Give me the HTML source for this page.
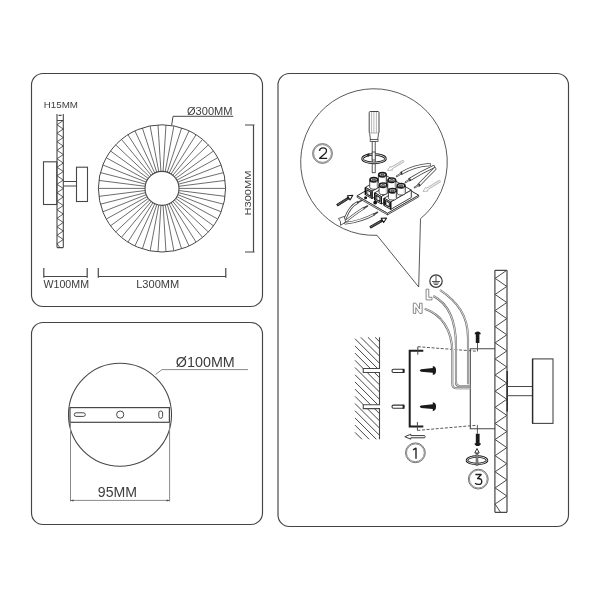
<!DOCTYPE html>
<html><head><meta charset="utf-8"><style>
html,body{margin:0;padding:0;background:#fff;width:600px;height:600px;overflow:hidden}
svg{display:block;filter:blur(0.35px)}
text{font-family:"Liberation Sans",sans-serif}
</style></head><body>
<svg width="600" height="600" viewBox="0 0 600 600">
<rect x="31.5" y="73.5" width="231" height="233" rx="11.5" fill="none" stroke="#444" stroke-width="1.15"/>
<text x="43.8" y="108.2" font-size="9.5" textLength="34.2" lengthAdjust="spacingAndGlyphs" fill="#3c3c3c" >H15MM</text>
<path d="M57 114V247.6M63.3 114V247.6M58.6 115.4H61.6M57 120.5H63.3M57 247.6H63.3" fill="none" stroke="#474747" stroke-width="1.1"/>
<path d="M63.3 120.5L57 124.75L63.3 129.00L57 133.25L63.3 137.50L57 141.75L63.3 146.00L57 150.25L63.3 154.50L57 158.75L63.3 163.00L57 167.25L63.3 171.50L57 175.75L63.3 180.00L57 184.25L63.3 188.50L57 192.75L63.3 197.00L57 201.25L63.3 205.50L57 209.75L63.3 214.00L57 218.25L63.3 222.50L57 226.75L63.3 231.00L57 235.25L63.3 239.50L57 243.75L60 247.6" fill="none" stroke="#474747" stroke-width="0.9"/>
<rect x="43.5" y="161.8" width="13.3" height="42.7" fill="none" stroke="#474747" stroke-width="1.1"/>
<path d="M63.3 181.5H76.5M63.3 186H76.5" fill="none" stroke="#474747" stroke-width="1"/>
<rect x="76.5" y="167.2" width="11" height="34.3" fill="none" stroke="#474747" stroke-width="1.1"/>
<path d="M43.8 268V277.8M87.2 268V277.8M43.8 276.5H87.2M98.3 268V277.8M225.8 268V277.8M98.3 276.5H225.8" fill="none" stroke="#474747" stroke-width="1.2"/>
<text x="43.5" y="287.9" font-size="10" textLength="45.5" lengthAdjust="spacingAndGlyphs" fill="#3c3c3c" >W100MM</text>
<text x="136.2" y="288.1" font-size="10" textLength="43.0" lengthAdjust="spacingAndGlyphs" fill="#3c3c3c" >L300MM</text>
<path d="M179.00 188.40L225.60 188.40M178.87 190.53L225.10 196.37M178.47 192.63L223.60 204.22M177.81 194.66L221.13 211.81M176.90 196.59L217.73 219.04M175.75 198.39L213.45 225.78M174.39 200.04L208.36 231.94M172.84 201.50L202.54 237.40M171.11 202.75L196.08 242.10M169.24 203.78L189.08 245.95M167.25 204.57L181.65 248.89M165.19 205.10L173.92 250.87M163.07 205.37L165.99 251.87M160.93 205.37L158.01 251.87M158.81 205.10L150.08 250.87M156.75 204.57L142.35 248.89M154.76 203.78L134.92 245.95M152.89 202.75L127.92 242.10M151.16 201.50L121.46 237.40M149.61 200.04L115.64 231.94M148.25 198.39L110.55 225.78M147.10 196.59L106.27 219.04M146.19 194.66L102.87 211.81M145.53 192.63L100.40 204.22M145.13 190.53L98.90 196.37M145.00 188.40L98.40 188.40M145.13 186.27L98.90 180.43M145.53 184.17L100.40 172.58M146.19 182.14L102.87 164.99M147.10 180.21L106.27 157.76M148.25 178.41L110.55 151.02M149.61 176.76L115.64 144.86M151.16 175.30L121.46 139.40M152.89 174.05L127.92 134.70M154.76 173.02L134.92 130.85M156.75 172.23L142.35 127.91M158.81 171.70L150.08 125.93M160.93 171.43L158.01 124.93M163.07 171.43L165.99 124.93M165.19 171.70L173.92 125.93M167.25 172.23L181.65 127.91M169.24 173.02L189.08 130.85M171.11 174.05L196.08 134.70M172.84 175.30L202.54 139.40M174.39 176.76L208.36 144.86M175.75 178.41L213.45 151.02M176.90 180.21L217.73 157.76M177.81 182.14L221.13 164.99M178.47 184.17L223.60 172.58M178.87 186.27L225.10 180.43" fill="none" stroke="#474747" stroke-width="0.8"/>
<circle cx="162" cy="188.4" r="63.6" fill="none" stroke="#474747" stroke-width="1"/>
<circle cx="162" cy="188.4" r="17" fill="#fff" stroke="#474747" stroke-width="1.1"/>
<text x="187" y="114.6" font-size="10.2" textLength="45.5" lengthAdjust="spacingAndGlyphs" fill="#3c3c3c" >Ø300MM</text>
<path d="M171.7 125L173 116.3H233.3" fill="none" stroke="#474747" stroke-width="1"/>
<path d="M245 125H254.5M245 252H254.5M253.5 125V252" fill="none" stroke="#474747" stroke-width="1.2"/>
<text x="0" y="0" font-size="9.5" textLength="45" lengthAdjust="spacingAndGlyphs" fill="#3c3c3c" transform="translate(251.2 215.5) rotate(-90)">H300MM</text>
<rect x="31.5" y="322.5" width="231" height="202" rx="11.5" fill="none" stroke="#444" stroke-width="1.15"/>
<circle cx="120" cy="414.7" r="51.5" fill="none" stroke="#474747" stroke-width="1.1"/>
<rect x="70" y="407.6" width="99.4" height="14.7" fill="#fff" stroke="#474747" stroke-width="1.2"/>
<rect x="74.3" y="412.8" width="11" height="3.6" rx="1.8" fill="none" stroke="#474747" stroke-width="1"/>
<circle cx="120.2" cy="414.6" r="3.6" fill="none" stroke="#474747" stroke-width="1"/>
<rect x="158.8" y="411" width="3.8" height="7.3" rx="1.9" fill="none" stroke="#474747" stroke-width="1"/>
<path d="M70.5 422.3V501.5M169.6 422.3V501.5M70.5 500.4H169.6" fill="none" stroke="#8a8a8a" stroke-width="1"/>
<path d="M70.5 500.4l3 -1v2zM169.6 500.4l-3 -1v2z" fill="#474747"/>
<text x="97.8" y="497.4" font-size="14.8" textLength="39.2" lengthAdjust="spacingAndGlyphs" fill="#3c3c3c" >95MM</text>
<text x="175.8" y="366.8" font-size="14.1" textLength="59.0" lengthAdjust="spacingAndGlyphs" fill="#3c3c3c" >Ø100MM</text>
<path d="M155.5 374.4L162 369.6H248" fill="none" stroke="#8a8a8a" stroke-width="1"/>
<rect x="278" y="73.5" width="290.5" height="453" rx="11.5" fill="none" stroke="#444" stroke-width="1.15"/>
<path d="M377 235.3A73.3 73.3 0 1 1 420.5 218.7L418.7 287Z" fill="none" stroke="#505050" stroke-width="0.95"/>
<path d="M494.9 270.3V512.3M507 270.3V512.3M494.9 270.3H507M494.9 512.3H507" fill="none" stroke="#474747" stroke-width="1.2"/>
<path d="M506.8 270.3L495.1 278.36L506.8 286.42L495.1 294.48L506.8 302.54L495.1 310.60L506.8 318.66L495.1 326.72L506.8 334.78L495.1 342.84L506.8 350.90L495.1 358.96L506.8 367.02L495.1 375.08L506.8 383.14L495.1 391.20L506.8 399.26L495.1 407.32L506.8 415.38L495.1 423.44L506.8 431.50L495.1 439.56L506.8 447.62L495.1 455.68L506.8 463.74L495.1 471.80L506.8 479.86L495.1 487.92L506.8 495.98L495.1 504.04L500.5 512.3" fill="none" stroke="#474747" stroke-width="1"/>
<path d="M507.2 371V411.5" stroke="#222" stroke-width="1.3"/>
<path d="M507 386.5H532.5M507 395.7H532.5" fill="none" stroke="#474747" stroke-width="1"/>
<rect x="532.5" y="358.9" width="20.5" height="64.5" fill="none" stroke="#474747" stroke-width="1.1"/>
<path d="M532.6 359V423.3" stroke="#2a2a2a" stroke-width="1.4"/>
<path d="M494.9 348.75H470.3V428.7H494.9" fill="none" stroke="#474747" stroke-width="1.1"/>
<clipPath id="wc"><path d="M354 336H379.5V368.5H363.25V372.5H379.5V404.8H363.25V408.6H379.5V440H354Z"/></clipPath>
<path d="M375.15 337.30L379.50 341.65M367.95 337.30L379.50 348.85M360.75 337.30L379.50 356.05M355.00 338.75L379.50 363.25M355.00 345.95L379.50 370.45M355.00 353.15L379.50 377.65M355.00 360.35L379.50 384.85M355.00 367.55L379.50 392.05M355.00 374.75L379.50 399.25M355.00 381.95L379.50 406.45M355.00 389.15L379.50 413.65M355.00 396.35L379.50 420.85M355.00 403.55L379.50 428.05M355.00 410.75L379.50 435.25M355.00 417.95L376.35 439.30M355.00 425.15L369.15 439.30M355.00 432.35L361.95 439.30" fill="none" stroke="#474747" stroke-width="1" clip-path="url(#wc)"/>
<path d="M379.5 337.3V368.5H363.25V372.5H379.5V404.8H363.25V408.6H379.5V439.3" fill="none" stroke="#474747" stroke-width="1.1"/>
<rect x="392" y="369.3" width="12" height="3.2" rx="1.5" fill="#fff" stroke="#333" stroke-width="1.1"/>
<rect x="402.6" y="368.8" width="1.9" height="4.2" fill="#222"/>
<rect x="392" y="405.1" width="12" height="3.2" rx="1.5" fill="#fff" stroke="#333" stroke-width="1.1"/>
<rect x="402.6" y="404.6" width="1.9" height="4.2" fill="#222"/>
<path d="M419.6 370.40L421 369.20L432.8 368.00V366.00Q436.4 366.80 436 370.40Q436.4 374.00 432.8 375.00V372.70L421 371.70Z" fill="#1a1a1a"/>
<path d="M419.6 406.60L421 405.40L432.8 404.20V402.20Q436.4 403.00 436 406.60Q436.4 410.20 432.8 411.20V408.90L421 407.90Z" fill="#1a1a1a"/>
<path d="M423.3 350.8H409.7V426.4H423.3" fill="none" stroke="#1e1e1e" stroke-width="2"/>
<path d="M417.8 346.7V354.7M417.4 422V430.4" fill="none" stroke="#474747" stroke-width="1"/>
<path d="M417.8 346.7L477.5 351.3M417.4 430.4L477.4 425.2" fill="none" stroke="#474747" stroke-width="0.9" stroke-dasharray="3 1.6"/>
<path d="M477.5 348.7V351.3M477.4 425.2V428.7" fill="none" stroke="#474747" stroke-width="0.9"/>
<path d="M477.5 343V348.7M477.4 428.7V433.7" stroke="#474747" stroke-width="0.9"/>
<path d="M475.8 343V334.2H474.6Q474.9 331.4 477.7 331.4Q480.5 331.4 480.8 334.2H479.4V343Z" fill="#1a1a1a"/>
<path d="M475.8 433.7V443.2H474.5Q474.8 446 477.7 446Q480.6 446 480.9 443.2H479.6V433.7Z" fill="#1a1a1a"/>
<ellipse cx="477" cy="460.3" rx="10" ry="3.7" fill="none" stroke="#111" stroke-width="2.5"/>
<ellipse cx="477" cy="460.3" rx="10" ry="3.7" fill="none" stroke="#fff" stroke-width="0.8"/>
<path d="M477 451V466" stroke="#222" stroke-width="2.4"/><path d="M477 452V466" stroke="#fff" stroke-width="0.8"/>
<path d="M477 448.5L479.2 453H474.8Z" fill="#fff" stroke="#222" stroke-width="0.9"/>
<path d="M404.8 436.7L410.8 434.2V435.6H424.6Q425.8 436.7 424.6 437.8H410.8V439.2Z" fill="#fff" stroke="#3a3a3a" stroke-width="1"/>
<circle cx="415.4" cy="452.8" r="9.9" fill="none" stroke="#505050" stroke-width="0.8"/>
<circle cx="415.4" cy="452.8" r="8.9" fill="none" stroke="#707070" stroke-width="0.8"/>
<path d="M413 449.8L416 448.2V458.8" fill="none" stroke="#1e1e1e" stroke-width="1.35" stroke-linejoin="round"/>
<circle cx="322.5" cy="153.5" r="9.9" fill="none" stroke="#505050" stroke-width="0.8"/>
<circle cx="322.5" cy="153.5" r="8.9" fill="none" stroke="#707070" stroke-width="0.8"/>
<path d="M319.4 150.9Q319.8 147.9 323 147.9Q326.5 147.9 326.5 150.8Q326.5 152.3 325.1 153.6L319.6 158.3H327.2" fill="none" stroke="#1e1e1e" stroke-width="1.3" stroke-linejoin="round"/>
<circle cx="478.3" cy="479.1" r="9.9" fill="none" stroke="#505050" stroke-width="0.8"/>
<circle cx="478.3" cy="479.1" r="8.9" fill="none" stroke="#707070" stroke-width="0.8"/>
<path d="M475.4 474.5H481.2L477.6 478.5Q481.8 478.3 481.8 481.4Q481.8 484.4 478.4 484.4Q476.3 484.4 475.1 483.2" fill="none" stroke="#1e1e1e" stroke-width="1.3" stroke-linejoin="round"/>
<circle cx="436" cy="281.1" r="6.2" fill="none" stroke="#3a3a3a" stroke-width="1.2"/>
<path d="M436 275.3V281.5M432 281.5H440M433.1 283H438.9M434.2 284.5H437.8" fill="none" stroke="#444" stroke-width="0.9"/>
<path d="M426.1 289.2H428.8V297.3H432V299.9H426.1Z" fill="#fff" stroke="#7a7a7a" stroke-width="0.9" stroke-linejoin="round"/>
<path d="M413.3 313.4V303.2H415.8L419.6 309V303.2H422.1V313.4H419.6L415.8 307.6V313.4Z" fill="#fff" stroke="#7a7a7a" stroke-width="0.9" stroke-linejoin="round"/>
<path d="M424.7 308.7C441 314 452.3 330 452.3 352V384Q452.3 388.3 457 388.3H470.3" fill="none" stroke="#6a6a6a" stroke-width="2.1"/>
<path d="M424.7 308.7C441 314 452.3 330 452.3 352V384Q452.3 388.3 457 388.3H470.3" fill="none" stroke="#fff" stroke-width="0.75"/>
<path d="M433.3 296C449 304 456 322 456 346V382.5Q456 386 459.5 386H470.3" fill="none" stroke="#6a6a6a" stroke-width="2.1"/>
<path d="M433.3 296C449 304 456 322 456 346V382.5Q456 386 459.5 386H470.3" fill="none" stroke="#fff" stroke-width="0.75"/>
<path d="M440 290C458 302 468 316 468 338V384.3" fill="none" stroke="#6a6a6a" stroke-width="2.1"/>
<path d="M440 290C458 302 468 316 468 338V384.3" fill="none" stroke="#fff" stroke-width="0.75"/>
<rect x="369.2" y="111.5" width="9.8" height="21.8" rx="1" fill="#fff" stroke="#474747" stroke-width="1"/>
<path d="M371.6 112V133M373.9 112V133M376.4 112V133" stroke="#999" stroke-width="0.7"/>
<path d="M369.6 133.3L370.5 139.5H377.7L378.6 133.3" fill="#fff" stroke="#474747" stroke-width="0.9"/>
<rect x="370.2" y="139.4" width="7.8" height="2" fill="#fff" stroke="#474747" stroke-width="0.8"/>
<rect x="372.2" y="141.4" width="3" height="31.3" fill="#fff" stroke="#474747" stroke-width="0.9"/>
<path d="M362.5 158.7A11.5 4.2 0 0 1 385.5 158.7" fill="none" stroke="#111" stroke-width="2.5"/>
<path d="M362.5 158.7A11.5 4.2 0 0 1 385.5 158.7" fill="none" stroke="#fff" stroke-width="0.8"/>
<rect x="372.2" y="152" width="3" height="8" fill="#fff" stroke="#474747" stroke-width="0.9"/>
<path d="M385.5 158.7A11.5 4.2 0 0 1 362.5 158.7" fill="none" stroke="#111" stroke-width="2.5"/>
<path d="M385.5 158.7A11.5 4.2 0 0 1 362.5 158.7" fill="none" stroke="#fff" stroke-width="0.8"/>
<path d="M365.5 154.3L369.5 153.2L368.6 156.8Z" fill="#222"/>
<path d="M429.5 164.6Q414 165.5 401.5 173.2" fill="none" stroke="#444" stroke-width="3.3" stroke-linecap="round"/>
<path d="M429.5 164.6Q414 165.5 401.5 173.2" fill="none" stroke="#fff" stroke-width="1.7999999999999998" stroke-linecap="round"/>
<path d="M433.5 166.8Q422 172 409.7 179.5" fill="none" stroke="#444" stroke-width="3.3" stroke-linecap="round"/>
<path d="M433.5 166.8Q422 172 409.7 179.5" fill="none" stroke="#fff" stroke-width="1.7999999999999998" stroke-linecap="round"/>
<path d="M434.8 168.8Q427 176.5 419 184.8" fill="none" stroke="#444" stroke-width="3.3" stroke-linecap="round"/>
<path d="M434.8 168.8Q427 176.5 419 184.8" fill="none" stroke="#fff" stroke-width="1.7999999999999998" stroke-linecap="round"/>
<path d="M401.5 173.2L396.8 176.2" stroke="#444" stroke-width="1.8" stroke-linecap="round"/>
<path d="M401.5 173.2L396.8 176.2" stroke="#fff" stroke-width="0.6"/>
<path d="M401.5 171.89999999999998L402.0 174.5" stroke="#222" stroke-width="1"/>
<path d="M409.7 179.5L405.6 182.2" stroke="#444" stroke-width="1.8" stroke-linecap="round"/>
<path d="M409.7 179.5L405.6 182.2" stroke="#fff" stroke-width="0.6"/>
<path d="M409.7 178.2L410.2 180.8" stroke="#222" stroke-width="1"/>
<path d="M419 184.8L414.7 187.6" stroke="#444" stroke-width="1.8" stroke-linecap="round"/>
<path d="M419 184.8L414.7 187.6" stroke="#fff" stroke-width="0.6"/>
<path d="M419 183.5L419.5 186.10000000000002" stroke="#222" stroke-width="1"/>
<polygon points="387.50,170.50 390.20,166.22 390.86,167.34 402.99,160.14 404.01,161.86 391.88,169.06 392.54,170.18" fill="#fff" stroke="#aaa" stroke-width="0.8" stroke-linejoin="round" />
<path d="M401.61 160.96L402.63 162.68M400.24 161.77L401.26 163.49M398.86 162.59L399.88 164.31M397.49 163.41L398.51 165.13M396.11 164.22L397.13 165.94M394.73 165.04L395.76 166.76M393.36 165.86L394.38 167.58" stroke="#aaa" stroke-width="0.5"/>
<polygon points="423.00,191.50 425.62,187.18 426.30,188.28 439.47,180.15 440.53,181.85 427.35,189.99 428.04,191.09" fill="#fff" stroke="#aaa" stroke-width="0.8" stroke-linejoin="round" />
<path d="M438.11 180.99L439.16 182.69M436.75 181.83L437.80 183.53M435.39 182.67L436.44 184.37M434.03 183.51L435.08 185.21M432.67 184.35L433.72 186.05M431.31 185.19L432.36 186.90M429.95 186.03L431.00 187.74M428.58 186.88L429.64 188.58" stroke="#aaa" stroke-width="0.5"/>
<polygon points="349.26,198.67 337.71,206.00 336.69,204.40 348.24,197.07" fill="#2a2a2a" stroke="#1a1a1a" stroke-width="0.9" stroke-linejoin="round" />
<path d="M338.70 204.96L338.06 203.94M339.89 204.21L339.24 203.19M341.07 203.46L340.42 202.44M342.25 202.71L341.61 201.69M343.43 201.96L342.79 200.94M344.61 201.21L343.97 200.19M345.80 200.46L345.15 199.44M346.98 199.71L346.33 198.69" stroke="#ddd" stroke-width="0.45"/>
<polygon points="352.80,195.30 350.09,199.98 347.41,195.76" fill="#fff" stroke="#1a1a1a" stroke-width="1.1" stroke-linejoin="round" />
<polygon points="382.90,221.20 370.77,228.13 369.83,226.47 381.96,219.55" fill="#2a2a2a" stroke="#1a1a1a" stroke-width="0.9" stroke-linejoin="round" />
<path d="M371.81 227.13L371.22 226.09M373.03 226.43L372.43 225.39M374.25 225.74L373.65 224.70M375.46 225.05L374.87 224.00M376.68 224.35L376.08 223.31M377.89 223.66L377.30 222.62M379.11 222.96L378.51 221.92M380.33 222.27L379.73 221.23" stroke="#ddd" stroke-width="0.45"/>
<polygon points="386.60,218.00 383.67,222.55 381.19,218.21" fill="#fff" stroke="#1a1a1a" stroke-width="1.1" stroke-linejoin="round" />
<polygon points="357.10,195.80 387.50,213.35 418.76,195.30 388.36,177.75" fill="#fff" stroke="#2a2a2a" stroke-width="1" stroke-linejoin="round" />
<polygon points="357.10,197.30 387.50,214.85 387.50,213.35 357.10,195.80" fill="#fff" stroke="#2a2a2a" stroke-width="0.8" stroke-linejoin="round" />
<polygon points="387.50,214.85 418.76,196.80 418.76,195.30 387.50,213.35" fill="#fff" stroke="#2a2a2a" stroke-width="0.8" stroke-linejoin="round" />
<polygon points="365.41,187.40 372.00,191.20 392.61,179.30 386.02,175.50" fill="#fff" stroke="#2a2a2a" stroke-width="0.9" stroke-linejoin="round" />
<polygon points="372.00,198.60 392.61,186.70 392.61,179.30 372.00,191.20" fill="#fff" stroke="#2a2a2a" stroke-width="0.9" stroke-linejoin="round" />
<polygon points="365.41,194.80 372.00,198.60 372.00,191.20 365.41,187.40" fill="#fff" stroke="#2a2a2a" stroke-width="1.0" stroke-linejoin="round" />
<polygon points="366.80,194.00 370.61,196.20 370.61,192.00 366.80,189.80" fill="#fff" stroke="#222" stroke-width="1.1" stroke-linejoin="round" />
<path d="M367.84 190.40L367.84 194.60" stroke="#888" stroke-width="0.7"/>
<path d="M365.41 194.80L365.41 187.40" stroke="#111" stroke-width="1.5"/>
<path d="M372.00 198.60L372.00 191.20" stroke="#111" stroke-width="1.2"/>
<polygon points="374.77,192.80 381.35,196.60 401.96,184.70 395.38,180.90" fill="#fff" stroke="#2a2a2a" stroke-width="0.9" stroke-linejoin="round" />
<polygon points="381.35,204.00 401.96,192.10 401.96,184.70 381.35,196.60" fill="#fff" stroke="#2a2a2a" stroke-width="0.9" stroke-linejoin="round" />
<polygon points="374.77,200.20 381.35,204.00 381.35,196.60 374.77,192.80" fill="#fff" stroke="#2a2a2a" stroke-width="1.0" stroke-linejoin="round" />
<polygon points="376.15,199.40 379.96,201.60 379.96,197.40 376.15,195.20" fill="#fff" stroke="#222" stroke-width="1.1" stroke-linejoin="round" />
<path d="M377.19 195.80L377.19 200.00" stroke="#888" stroke-width="0.7"/>
<path d="M374.77 200.20L374.77 192.80" stroke="#111" stroke-width="1.5"/>
<path d="M381.35 204.00L381.35 196.60" stroke="#111" stroke-width="1.2"/>
<polygon points="384.12,198.20 390.70,202.00 411.31,190.10 404.73,186.30" fill="#fff" stroke="#2a2a2a" stroke-width="0.9" stroke-linejoin="round" />
<polygon points="390.70,209.40 411.31,197.50 411.31,190.10 390.70,202.00" fill="#fff" stroke="#2a2a2a" stroke-width="0.9" stroke-linejoin="round" />
<polygon points="384.12,205.60 390.70,209.40 390.70,202.00 384.12,198.20" fill="#fff" stroke="#2a2a2a" stroke-width="1.0" stroke-linejoin="round" />
<polygon points="385.50,204.80 389.32,207.00 389.32,202.80 385.50,200.60" fill="#fff" stroke="#222" stroke-width="1.1" stroke-linejoin="round" />
<path d="M386.54 201.20L386.54 205.40" stroke="#888" stroke-width="0.7"/>
<path d="M384.12 205.60L384.12 198.20" stroke="#111" stroke-width="1.5"/>
<path d="M390.70 209.40L390.70 202.00" stroke="#111" stroke-width="1.2"/>
<path d="M378.37 181.85A4.1 2.4 0 0 0 386.57 181.85V174.85H378.37Z" fill="#fff" stroke="#333" stroke-width="0.9"/>
<ellipse cx="382.47" cy="174.85" rx="3.8" ry="2.20" fill="#fff" stroke="#1a1a1a" stroke-width="1.6"/>
<ellipse cx="382.47" cy="175.15" rx="2.00" ry="0.95" fill="#aaa" stroke="#222" stroke-width="0.8"/>
<path d="M385.37 176.35V182.35" stroke="#ccc" stroke-width="0.8"/>
<path d="M369.71 186.85A4.1 2.4 0 0 0 377.91 186.85V179.85H369.71Z" fill="#fff" stroke="#333" stroke-width="0.9"/>
<ellipse cx="373.81" cy="179.85" rx="3.8" ry="2.20" fill="#fff" stroke="#1a1a1a" stroke-width="1.6"/>
<ellipse cx="373.81" cy="180.15" rx="2.00" ry="0.95" fill="#aaa" stroke="#222" stroke-width="0.8"/>
<path d="M376.71 181.35V187.35" stroke="#ccc" stroke-width="0.8"/>
<path d="M387.73 187.25A4.1 2.4 0 0 0 395.93 187.25V180.25H387.73Z" fill="#fff" stroke="#333" stroke-width="0.9"/>
<ellipse cx="391.83" cy="180.25" rx="3.8" ry="2.20" fill="#fff" stroke="#1a1a1a" stroke-width="1.6"/>
<ellipse cx="391.83" cy="180.55" rx="2.00" ry="0.95" fill="#aaa" stroke="#222" stroke-width="0.8"/>
<path d="M394.73 181.75V187.75" stroke="#ccc" stroke-width="0.8"/>
<path d="M379.07 192.25A4.1 2.4 0 0 0 387.27 192.25V185.25H379.07Z" fill="#fff" stroke="#333" stroke-width="0.9"/>
<ellipse cx="383.17" cy="185.25" rx="3.8" ry="2.20" fill="#fff" stroke="#1a1a1a" stroke-width="1.6"/>
<ellipse cx="383.17" cy="185.55" rx="2.00" ry="0.95" fill="#aaa" stroke="#222" stroke-width="0.8"/>
<path d="M386.07 186.75V192.75" stroke="#ccc" stroke-width="0.8"/>
<path d="M397.08 192.65A4.1 2.4 0 0 0 405.28 192.65V185.65H397.08Z" fill="#fff" stroke="#333" stroke-width="0.9"/>
<ellipse cx="401.18" cy="185.65" rx="3.8" ry="2.20" fill="#fff" stroke="#1a1a1a" stroke-width="1.6"/>
<ellipse cx="401.18" cy="185.95" rx="2.00" ry="0.95" fill="#aaa" stroke="#222" stroke-width="0.8"/>
<path d="M404.08 187.15V193.15" stroke="#ccc" stroke-width="0.8"/>
<path d="M388.42 197.65A4.1 2.4 0 0 0 396.62 197.65V190.65H388.42Z" fill="#fff" stroke="#333" stroke-width="0.9"/>
<ellipse cx="392.52" cy="190.65" rx="3.8" ry="2.20" fill="#fff" stroke="#1a1a1a" stroke-width="1.6"/>
<ellipse cx="392.52" cy="190.95" rx="2.00" ry="0.95" fill="#aaa" stroke="#222" stroke-width="0.8"/>
<path d="M395.42 192.15V198.15" stroke="#ccc" stroke-width="0.8"/>
<path d="M338.5 218.5L344.5 216.3Q346.6 219 346.2 221.8L340.5 225.3Q341.6 221.5 338.5 218.5Z" fill="#fff" stroke="#474747" stroke-width="0.9"/>
<path d="M345.3 218.2Q350 206 357.5 202.5" fill="none" stroke="#444" stroke-width="2.6" stroke-linecap="round"/>
<path d="M345.3 218.2Q350 206 357.5 202.5" fill="none" stroke="#fff" stroke-width="1.1" stroke-linecap="round"/>
<path d="M346 221Q356 213 364 208" fill="none" stroke="#444" stroke-width="2.6" stroke-linecap="round"/>
<path d="M346 221Q356 213 364 208" fill="none" stroke="#fff" stroke-width="1.1" stroke-linecap="round"/>
<path d="M345.5 223.3Q362 221 374 214.3" fill="none" stroke="#444" stroke-width="2.6" stroke-linecap="round"/>
<path d="M345.5 223.3Q362 221 374 214.3" fill="none" stroke="#fff" stroke-width="1.1" stroke-linecap="round"/>
<path d="M357.5 202.5L362 200.4M364 208L367.5 206M374 214.3L377.5 212.3" stroke="#444" stroke-width="1.6" stroke-linecap="round"/>
<circle cx="365.6" cy="197.8" r="1.5" fill="#111"/><circle cx="375.2" cy="202.6" r="1.9" fill="#111"/>
</svg>
</body></html>
